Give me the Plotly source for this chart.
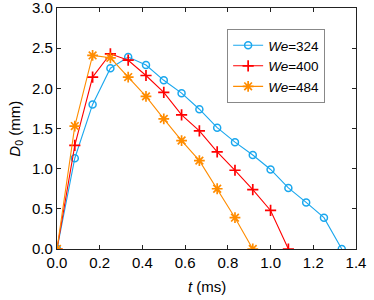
import plotly.graph_objects as go

t324 = [k / 12 for k in range(17)]
d324 = [0, 1.13, 1.80, 2.25, 2.39, 2.29, 2.10, 1.94, 1.74, 1.51, 1.33, 1.17, 0.99, 0.76, 0.58, 0.39, 0.0]
t400 = [k / 12 for k in range(14)]
d400 = [0, 1.29, 2.14, 2.43, 2.35, 2.16, 1.95, 1.67, 1.47, 1.21, 0.98, 0.74, 0.48, 0.0]
t484 = [k / 12 for k in range(12)]
d484 = [0, 1.53, 2.41, 2.38, 2.14, 1.90, 1.62, 1.35, 1.10, 0.75, 0.39, 0.0]

names = ["<i>We</i>=324", "<i>We</i>=400", "<i>We</i>=484"]
colors = ["#1aa7ee", "#ff0000", "#ff8c00"]

fig = go.Figure()
fig.add_trace(go.Scatter(x=t324, y=d324, mode="lines+markers", name=names[0],
                         line=dict(color=colors[0], width=1.1),
                         marker=dict(symbol="circle-open", size=7, color=colors[0], line=dict(width=1.5))))
fig.add_trace(go.Scatter(x=t400, y=d400, mode="lines+markers", name=names[1],
                         line=dict(color=colors[1], width=1.1),
                         marker=dict(symbol="cross-thin-open", size=8, color=colors[1], line=dict(width=1.7, color=colors[1]))))
fig.add_trace(go.Scatter(x=t484, y=d484, mode="lines+markers", name=names[2],
                         line=dict(color=colors[2], width=1.1),
                         marker=dict(symbol="asterisk-open", size=9, color=colors[2], line=dict(width=1.7, color=colors[2]))))

axis_common = dict(showgrid=False, zeroline=False, showline=True, linecolor="#222", linewidth=1.3,
                   mirror="allticks", ticks="inside", ticklen=4, tickcolor="#222", tickwidth=1,
                   tickformat=".1f", tickfont=dict(size=15, color="black"),
                   automargin=False, ticklabeloverflow="allow")

fig.update_xaxes(range=[0, 1.4], dtick=0.2, tick0=0, **axis_common)
fig.update_yaxes(range=[0, 3.0], dtick=0.5, tick0=0, **axis_common)

fig.add_annotation(text="<i>t</i> (ms)", xref="paper", yref="paper", x=0.5, y=-0.156,
                   xanchor="center", yanchor="middle", showarrow=False, font=dict(size=15, color="black"))
fig.add_annotation(text="<i>D</i><sub>0</sub> (mm)", xref="paper", yref="paper", x=-0.14, y=0.5,
                   xanchor="center", yanchor="middle", textangle=-90, showarrow=False,
                   font=dict(size=15, color="black"))

fig.update_layout(
    width=374, height=300,
    margin=dict(l=57, r=18, t=8, b=51),
    paper_bgcolor="white", plot_bgcolor="white",
    font=dict(family="Arial, Liberation Sans, sans-serif", size=15, color="black"),
    legend=dict(x=0.569, y=0.913, xanchor="left", yanchor="top",
                bordercolor="#888", borderwidth=1, bgcolor="white",
                font=dict(size=13.5), tracegroupgap=0, itemwidth=30),
    showlegend=True,
)

fig.write_html("out.html", config={"displayModeBar": False},
               post_script="document.body.style.margin='0';document.body.style.padding='0';")
